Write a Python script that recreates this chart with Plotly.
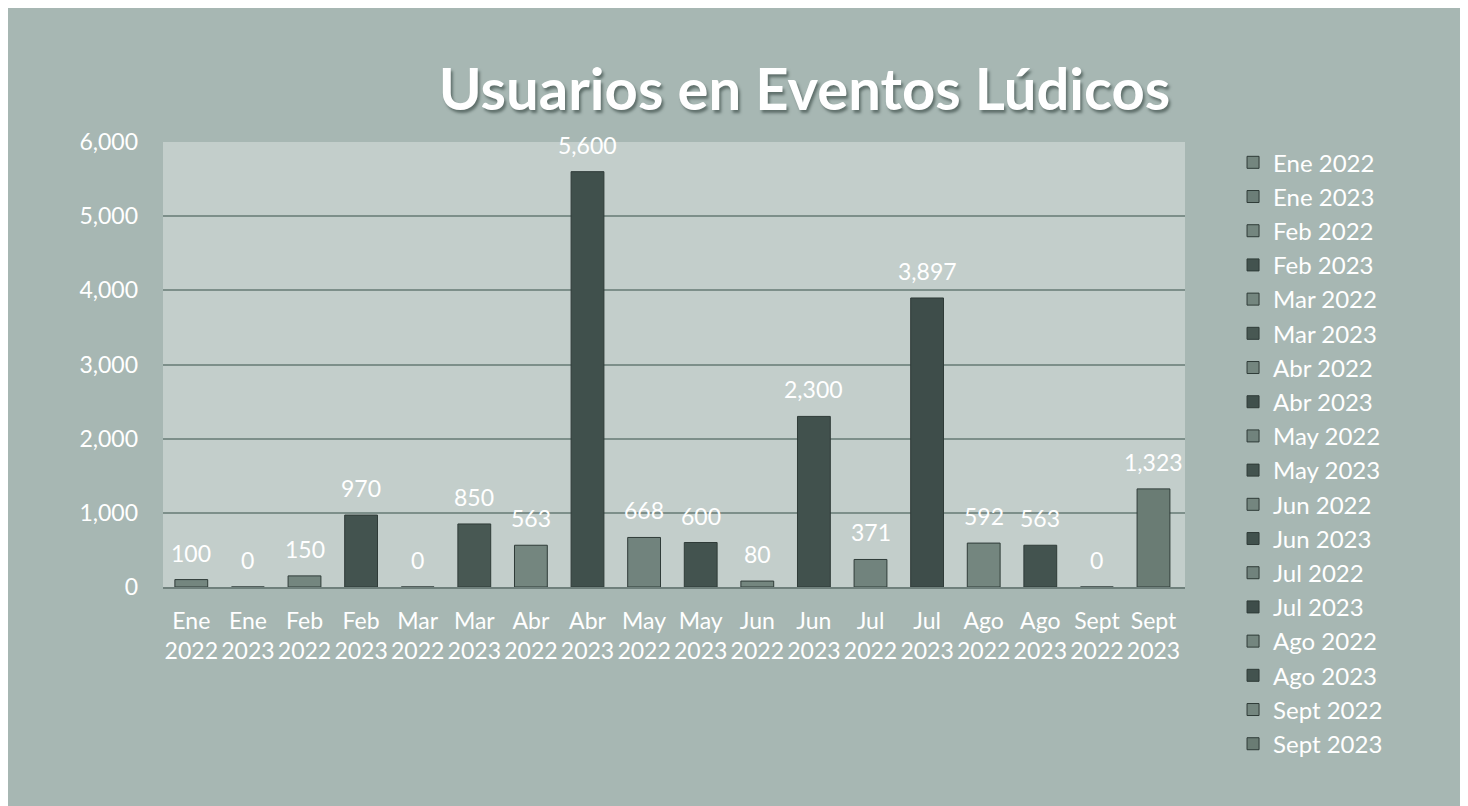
import plotly.graph_objects as go

months = ["Ene", "Ene", "Feb", "Feb", "Mar", "Mar", "Abr", "Abr", "May", "May",
          "Jun", "Jun", "Jul", "Jul", "Ago", "Ago", "Sept", "Sept"]
years = ["2022", "2023"] * 9
values = [100, 0, 150, 970, 0, 850, 563, 5600, 668, 600,
          80, 2300, 371, 3897, 592, 563, 0, 1323]
colors = ["#74867f", "#6c7e78", "#74867f", "#43534f", "#74867f", "#485853",
          "#74867f", "#40504c", "#71837d", "#43534f", "#74867f", "#41514d",
          "#71837d", "#3e4d4a", "#74867f", "#43534f", "#74867f", "#6a7c74"]
y_ticks = [0, 1000, 2000, 3000, 4000, 5000, 6000]

FONT = "Lato, 'Open Sans', sans-serif"
categories = [f"{m}<br>{y}" for m, y in zip(months, years)]

fig = go.Figure()
for cat, m, y, v, c in zip(categories, months, years, values, colors):
    fig.add_trace(go.Bar(
        x=[cat], y=[v], name=f"{m} {y}", legendgroup=f"{m} {y}",
        marker=dict(color=c, line=dict(color="#2f3b38", width=1)),
        width=0.58,
    ))
    fig.add_annotation(
        x=cat, y=v, xref="x", yref="y", text=f"{v:,}", showarrow=False,
        yanchor="middle", yshift=27,
        font=dict(color="white", size=23, family=FONT),
    )

fig.update_layout(
    width=1460, height=798,
    barmode="overlay",
    paper_bgcolor="#a7b7b3",
    plot_bgcolor="#c3cecb",
    margin=dict(l=155, r=283, t=134, b=219),
    title=dict(
        text="<b>Usuarios en Eventos Lúdicos</b>",
        x=0.5456, xanchor="center", y=0.898, yanchor="middle",
        font=dict(size=58, color="white", family=FONT, shadow="2px 3px 3px #5f6f6b"),
    ),
    legend=dict(
        x=1.047, xanchor="left", y=1.004, yanchor="top",
        font=dict(size=24, color="white", family=FONT),
        tracegroupgap=0, bgcolor="rgba(0,0,0,0)", maxheight=760,
    ),
)
fig.update_xaxes(
    categoryorder="array", categoryarray=categories,
    tickfont=dict(size=23, color="white", family=FONT), tickangle=0,
    showline=True, linecolor="#6f807c", linewidth=2,
    showgrid=False, ticklabelstandoff=12,
)
fig.update_yaxes(
    range=[0, 6000], tickvals=y_ticks, tickformat=",",
    tickfont=dict(size=23, color="white", family=FONT),
    gridcolor="#7d8f8a", gridwidth=2, zeroline=False,
    ticklabelstandoff=24,
)

fig.write_html("out.html")
